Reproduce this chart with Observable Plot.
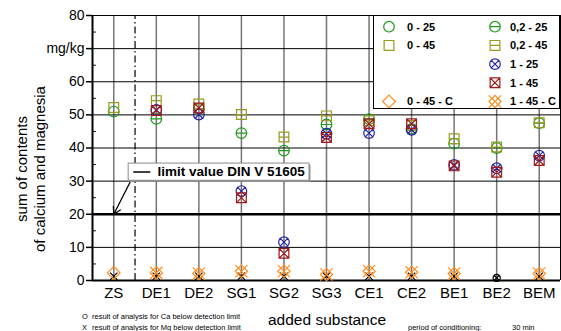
<!DOCTYPE html>
<html><head><meta charset="utf-8">
<script src="https://cdn.jsdelivr.net/npm/d3@7"></script>
<script src="https://cdn.jsdelivr.net/npm/@observablehq/plot@0.6"></script>
<style>
body{margin:0;background:#fff;font-family:Arial,"Liberation Sans",sans-serif;}
#wrap{position:relative;width:561px;height:331px;overflow:hidden;background:#fff;}
.note{position:absolute;font-size:7.5px;white-space:nowrap;color:#000;line-height:1;}
.big{position:absolute;font-size:15.5px;white-space:nowrap;color:#000;line-height:1;}
#legend{position:absolute;left:373px;top:15px;width:187px;height:94px;box-sizing:border-box;border:1px solid #000;background:#fff;}
</style></head><body><div id="wrap"></div>
<script>
// ---------- data ----------
const categories = ["ZS","DE1","DE2","SG1","SG2","SG3","CE1","CE2","BE1","BE2","BEM"];
const s0_25   = [51.0, null, null, null, null, null, null, null, null, null, null];
const s0_45   = [52.2, null, null, null, null, null, null, null, null, null, null];
const s02_25  = [null, 48.8, 51.8, 44.5, 39.2, 47.1, 48.7, 45.8, 41.3, 40.0, 47.5];
const s02_45  = [null, 54.3, 53.3, 50.1, 43.3, 49.7, 48.2, 46.8, 42.8, 40.3, 47.6];
const s1_25   = [null, 51.5, 50.1, 27.0, 11.6, 44.3, 44.5, 45.5, 34.9, 33.9, 37.7];
const s1_45   = [null, 51.3, 52.1, 25.0,  8.2, 43.2, 47.3, 47.3, 34.6, 32.7, 36.2];
const s0_45C  = [2.3, null, null, null, null, null, null, null, null, null, null];
const s1_45C  = [null, 2.3, 2.1, 2.8, 2.8, 1.8, 2.8, 2.5, 2.1, null, 2.1];
const mgBelowLimit = ["ZS","DE1","DE2","SG1","SG2","SG3","CE1","CE2","BE1","BEM"];
const caBelowLimit = ["BE2"];
const belowLimitMarkerValue = 1.3;
const limitValue = 20;
const limitLabel = "limit value DIN V 51605";
const yTicks = [0,10,20,30,40,50,60,70,80];
const yTickLabels = ["0","10","20","30","40","50","60","mg/kg","80"];
const yMinor = [5,15,25,35,45,55,65,75];
const seriesLabels = ["0 - 25","0 - 45","0,2 - 25","0,2 - 45","1 - 25","1 - 45","0 - 45 - C","1 - 45 - C"];

// ---------- symbols ----------
const rr = s => Math.sqrt(s/Math.PI);
const symCircle = {draw(c,s){const r=rr(s);c.moveTo(r,0);c.arc(0,0,r,0,2*Math.PI);}};
const symSquare = {draw(c,s){const w=rr(s)*0.92;c.rect(-w,-w,2*w,2*w);}};
const symCircleTheta = {draw(c,s){const r=rr(s);c.moveTo(r,0);c.arc(0,0,r,0,2*Math.PI);c.moveTo(-r,0);c.lineTo(r,0);}};
const symSquareTheta = {draw(c,s){const w=rr(s)*0.92;c.rect(-w,-w,2*w,2*w);c.moveTo(-w,0);c.lineTo(w,0);}};
const symCircleX = {draw(c,s){const r=rr(s);c.moveTo(r,0);c.arc(0,0,r,0,2*Math.PI);const k=r*0.8;c.moveTo(-k,-k);c.lineTo(k,k);c.moveTo(-k,k);c.lineTo(k,-k);}};
const symSquareX = {draw(c,s){const w=rr(s)*0.92;c.rect(-w,-w,2*w,2*w);c.moveTo(-w,-w);c.lineTo(w,w);c.moveTo(-w,w);c.lineTo(w,-w);}};
const symDiamond = {draw(c,s){const r=rr(s)*1.2;c.moveTo(0,-r);c.lineTo(r,0);c.lineTo(0,r);c.lineTo(-r,0);c.closePath();}};
const symCrossDiamond = {draw(c,s){const r=rr(s)*1.15;c.moveTo(0,-r);c.lineTo(r,0);c.lineTo(0,r);c.lineTo(-r,0);c.closePath();c.moveTo(-r,-r);c.lineTo(r,r);c.moveTo(-r,r);c.lineTo(r,-r);}};

const green="#1c9a1c", olive="#9a9a1e", blue="#2424a6", red="#a01a1a", orange="#ff8c1a";
const seriesValues = [s0_25,s0_45,s02_25,s02_45,s1_25,s1_45,s0_45C,s1_45C];
const seriesStyle = [
  {color:green, sym:symCircle},
  {color:olive, sym:symSquare},
  {color:green, sym:symCircleTheta},
  {color:olive, sym:symSquareTheta},
  {color:blue, sym:symCircleX},
  {color:red, sym:symSquareX},
  {color:orange, sym:symDiamond},
  {color:orange, sym:symCrossDiamond}
];
const R = 5.3;

const idx = categories.map((c,i)=>i);
const rows = vals => vals.map((v,i)=>({i,v})).filter(d=>d.v!=null);
const xMin = -0.5, xMax = categories.length - 0.5;

const dataMarks = seriesValues.map((vals,k)=>Plot.dot(rows(vals), {
  x:"i", y:"v", r:R, symbol: seriesStyle[k].sym, stroke: seriesStyle[k].color, strokeWidth:1.2, fill:"none"
}));

const plot = Plot.plot({
  width:561, height:331,
  marginLeft:92, marginRight:1, marginTop:15, marginBottom:51,
  style:{fontFamily:"Arial, 'Liberation Sans', sans-serif", background:"white", color:"#000", overflow:"visible"},
  x:{domain:[xMin,xMax], axis:null},
  y:{domain:[0,80], axis:null},
  marks:[
    Plot.ruleX(idx, {y1:0, y2:80, stroke:"#767676", strokeWidth:1.5}),
    Plot.ruleY(yTicks.filter(t=>t!==limitValue && t!==0), {stroke:"#000", strokeWidth:1}),
    Plot.ruleY([limitValue], {stroke:"#000", strokeWidth:2.5}),
    Plot.ruleX([0.5], {y1:0, y2:80, stroke:"#000", strokeWidth:1.2, strokeDasharray:"7,3,1.5,3"}),
    Plot.ruleY(yMinor, {x1:xMin, x2:xMin+0.09, stroke:"#000", strokeWidth:1}),
    Plot.ruleX([xMax], {y1:0, y2:80, stroke:"#000", strokeWidth:1}),
    Plot.ruleY([0], {stroke:"#000", strokeWidth:2}),
    Plot.ruleX([xMin], {y1:0, y2:80, stroke:"#000", strokeWidth:2}),
    Plot.axisY({ticks:yTicks, tickFormat:(d)=>yTickLabels[yTicks.indexOf(d)], tickSize:6, tickPadding:2, fontSize:14, strokeWidth:1.5, label:null}),
    Plot.axisX({ticks:idx, tickFormat:i=>categories[i], tickSize:0, tickPadding:7, fontSize:15, label:null}),
    Plot.text(["sum of contents\nof calcium and magnesia"], {frameAnchor:"left", textAnchor:"middle", lineAnchor:"middle", dx:-62, dy:21, rotate:-90, fontSize:15, lineHeight:1.2}),
    // limit annotation
    Plot.arrow([0], {x1:0.38, y1:29.6, x2:0, y2:limitValue, stroke:"#000", strokeWidth:1.3, headLength:9, inset:0}),
    Plot.rect([0], {x1:0.35, x2:4.6, y1:30.1, y2:35.3, fill:"#9a9a9a", dx:1.5, dy:1.5}),
    Plot.rect([0], {x1:0.35, x2:4.6, y1:30.1, y2:35.3, fill:"white", stroke:"#8a8a8a", strokeWidth:1}),
    Plot.ruleY([32.75], {x1:0.47, x2:0.87, stroke:"#000", strokeWidth:1.5}),
    Plot.text([limitLabel], {x:1.03, y:32.75, textAnchor:"start", fontWeight:"bold", fontSize:13.5}),
    // detection-limit markers
    Plot.dot(mgBelowLimit.map(c=>categories.indexOf(c)), {x:d=>d, y:()=>belowLimitMarkerValue, symbol:"times", r:3.4, stroke:"#000", strokeWidth:1.2}),
    Plot.dot(caBelowLimit.map(c=>categories.indexOf(c)), {x:d=>d, y:()=>belowLimitMarkerValue*0.6, symbol:symCircleX, r:3.6, stroke:"#000", strokeWidth:1.2, fill:"none"}),
    ...dataMarks
  ]
});
const wrap = document.getElementById("wrap");
wrap.appendChild(plot);

// legend
const legend = document.createElement("div");
legend.id = "legend";
wrap.appendChild(legend);
const lsvg = d3.select(legend).append("svg").attr("width",185).attr("height",92);
const legendPos = [[0,0],[0,1],[1,0],[1,1],[1,2],[1,3],[0,4],[1,4]];
legendPos.forEach(([col,row],k)=>{
  const sx = col? 121:15, tx = col? 136:33, y = 10.7 + row*18.7;
  lsvg.append("path").attr("d", d3.symbol(seriesStyle[k].sym, R*R*Math.PI)())
    .attr("transform",`translate(${sx},${y})`).attr("fill","none").attr("stroke",seriesStyle[k].color).attr("stroke-width",1.2);
  lsvg.append("text").attr("x",tx).attr("y",y).attr("dy","0.36em").attr("font-size",11).attr("font-weight","bold")
    .attr("font-family","Arial, 'Liberation Sans', sans-serif").text(seriesLabels[k]);
});

// notes
const addText = (cls, txt, left, top) => { const d=document.createElement("div"); d.className=cls; d.textContent=txt; d.style.left=left+"px"; d.style.top=top+"px"; wrap.appendChild(d); };
addText("note","O",82,313);
addText("note","result of analysis for Ca below detection limit",92,313);
addText("note","X",82,323.5);
addText("note","result of analysis for Mg below detection limit",92,323.5);
addText("note","period of conditioning:",408,323.5);
addText("note","30 min",512,323.5);
addText("big","added substance",268,312);
</script>
</body></html>
